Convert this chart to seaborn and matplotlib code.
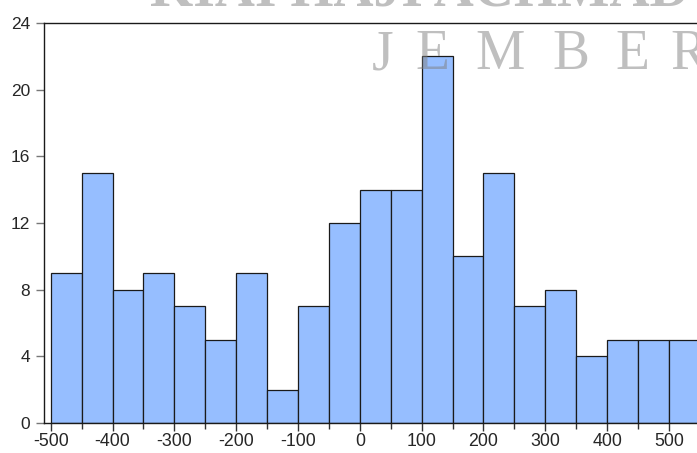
import numpy as np
import pandas as pd
import matplotlib
matplotlib.use("Agg")
import matplotlib.pyplot as plt
import seaborn as sns

# ---- data ----
bin_left = [-500, -450, -400, -350, -300, -250, -200, -150, -100, -50,
            0, 50, 100, 150, 200, 250, 300, 350, 400, 450, 500]
counts = [9, 15, 8, 9, 7, 5, 9, 2, 7, 12,
          14, 14, 22, 10, 15, 7, 8, 4, 5, 5, 5]
bin_edges = [-500, -450, -400, -350, -300, -250, -200, -150, -100, -50,
             0, 50, 100, 150, 200, 250, 300, 350, 400, 450, 500, 550]
x_major = [-500, -400, -300, -200, -100, 0, 100, 200, 300, 400, 500]
x_minor = [-450, -350, -250, -150, -50, 50, 150, 250, 350, 450]
y_ticks = [0, 4, 8, 12, 16, 20, 24]

sns.set_style("white")
plt.rcParams['font.family'] = ['Liberation Sans', 'DejaVu Sans']

df = pd.DataFrame({"value": bin_left, "count": counts})

fig = plt.figure(figsize=(6.97, 4.53), dpi=100)
ax = fig.add_axes([44 / 697, 1 - 423 / 453, (697 - 44) / 697, 400 / 453])

sns.histplot(data=df, x="value", weights="count", bins=bin_edges,
             color="#96beff", alpha=1.0, edgecolor="#1a1a1a", linewidth=0.9,
             ax=ax)

ax.set_xlim(-510.8, 545.3)
ax.set_ylim(0, 24)
ax.set_xticks(x_major)
ax.set_xticklabels([str(v) for v in x_major])
ax.set_xticks(x_minor, minor=True)
ax.set_yticks(y_ticks)
ax.set_yticklabels([str(v) for v in y_ticks])
ax.set_xlabel("")
ax.set_ylabel("")

for side in ["left", "bottom", "top"]:
    ax.spines[side].set_visible(True)
    ax.spines[side].set_color("#1a1a1a")
    ax.spines[side].set_linewidth(1.0)
ax.spines["right"].set_visible(False)

ax.tick_params(axis="x", which="major", direction="out", length=5.5, width=1,
               color="#333333", labelsize=12.8, pad=2, bottom=True)
ax.tick_params(axis="x", which="minor", direction="out", length=4, width=1,
               color="#333333", bottom=True)
ax.tick_params(axis="y", which="major", direction="out", length=6, width=1,
               color="#777777", labelsize=12.5, pad=4, left=True)

# ---- watermark ----
fig.text(150 / 697, 1 - 6 / 453, "KIAI HAJI ACHMAD", fontsize=40,
         family=["Liberation Serif", "DejaVu Serif"], fontweight="bold",
         color="#808080", alpha=0.5, ha="left", va="baseline")
letters = ["J", "E", "M", "B", "E", "R"]
letter_x = [372, 415, 475, 552, 615, 670]
for ch, xp in zip(letters, letter_x):
    fig.text(xp / 697, 1 - 69 / 453, ch, fontsize=40,
             family=["Liberation Serif", "DejaVu Serif"],
             color="#808080", alpha=0.5, ha="left", va="baseline")

fig.savefig("out.png", dpi=100)
